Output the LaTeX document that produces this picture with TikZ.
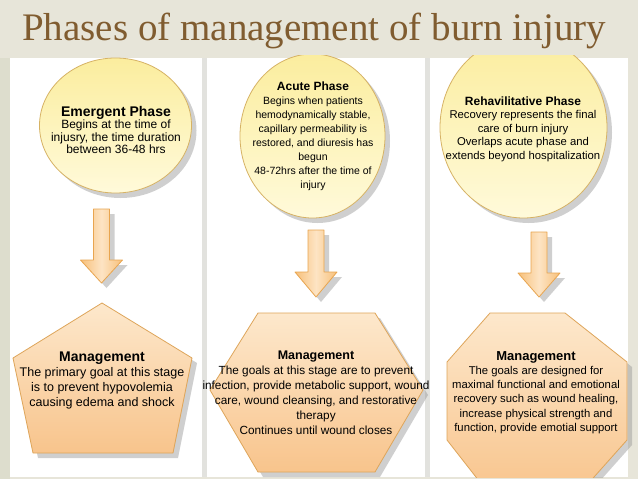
\documentclass[tikz,border=0pt]{standalone}
\usepackage{fontspec}
\setmainfont{Liberation Sans}
\newfontfamily\titlefont{Liberation Serif}
\usetikzlibrary{shapes.geometric}

\begin{document}
\begin{tikzpicture}[x=1pt, y=-1pt, line join=round,
    phasecirc/.style={ellipse, draw=circline, line width=0.8pt,
        top color=circtop, bottom color=circbot, inner sep=0pt},
    mgmtshape/.style={draw=boxline, line width=0.8pt,
        top color=boxtop, bottom color=boxbot},
    downarrow/.style={draw=arrowline, line width=0.8pt,
        left color=arrowdark, right color=arrowdark, middle color=arrowlight},
    softshadow/.style={fill=shadowgray, opacity=0.45},
    bodytext/.style={align=center, inner sep=0pt, text=black},
  ]

    % Define custom colors to match the image
    \definecolor{slidebg}{RGB}{231, 229, 217}
    \definecolor{stripbg}{RGB}{221, 221, 205}
    \definecolor{sepgray}{RGB}{226, 226, 222}
    \definecolor{titlebrown}{RGB}{128, 92, 48}
    \definecolor{circtop}{RGB}{251, 237, 158}
    \definecolor{circbot}{RGB}{255, 250, 218}
    \definecolor{circline}{RGB}{214, 178, 100}
    \definecolor{boxtop}{RGB}{253, 232, 204}
    \definecolor{boxbot}{RGB}{248, 196, 140}
    \definecolor{boxline}{RGB}{222, 165, 90}
    \definecolor{arrowdark}{RGB}{247, 192, 122}
    \definecolor{arrowlight}{RGB}{253, 228, 196}
    \definecolor{arrowline}{RGB}{232, 165, 80}
    \definecolor{shadowgray}{RGB}{150, 150, 150}

    \useasboundingbox (0,0) rectangle (638,479);

    % =======================================================
    % SLIDE BACKGROUND AND TITLE
    % =======================================================
    \fill[slidebg] (0,0) rectangle (638,479);
    \fill[stripbg] (0,58) rectangle (10,479);

    \node[anchor=base west, inner sep=0pt, text=titlebrown,
          font=\titlefont\fontsize{39}{39}\selectfont] (title) at (22,41)
        {Phases of management of burn injury};

    % 1. Three white panels on a light gray sheet
    \fill[sepgray] (10,58) rectangle (628,477);
    \fill[white] (10,58) rectangle (202,477);
    \fill[white] (207,58) rectangle (425,477);
    \fill[white] (430,58) rectangle (628,477);

    \begin{scope}
        \clip (0,55) rectangle (638,477);

        % 2. Soft gray shadows (shifted copies)
        \begin{scope}[xshift=5pt, yshift=-5pt]
            \fill[softshadow] (115.5,125.5) ellipse [x radius=76, y radius=67.5];
            \fill[softshadow] (312.5,136) ellipse [x radius=72.5, y radius=82];
            \fill[softshadow] (523.5,127.5) ellipse [x radius=83.5, y radius=90.5];
            \foreach \cx/\ytop/\yhead/\ytip in {101.5/209/260/283, 316/230/272/297, 539/232/273/297} {
                \fill[softshadow] (\cx-8,\ytop) -- (\cx+8,\ytop) -- (\cx+8,\yhead) -- (\cx+21,\yhead)
                    -- (\cx,\ytip) -- (\cx-21,\yhead) -- (\cx-8,\yhead) -- cycle;
            }
            \fill[softshadow] (102,303) -- (192,358) -- (173,453) -- (33,453) -- (13,358) -- cycle;
            \fill[softshadow] (258,313) -- (375,313) -- (423,390) -- (375,472) -- (258,472) -- (210,390) -- cycle;
            \fill[softshadow] (490,313) -- (565,313) -- (627,362) -- (627,440) -- (578,495)
                -- (490,495) -- (447,440) -- (447,362) -- cycle;
        \end{scope}

        % 3. Phase circles
        \node[phasecirc, minimum width=152pt, minimum height=135pt] (emergent) at (115.5,125.5) {};
        \node[phasecirc, minimum width=145pt, minimum height=164pt] (acute) at (312.5,136) {};
        \node[phasecirc, minimum width=167pt, minimum height=181pt] (rehab) at (523.5,127.5) {};

        % 4. Block arrows down to the management shapes
        \foreach \cx/\ytop/\yhead/\ytip in {101.5/209/260/283, 316/230/272/297, 539/232/273/297} {
            \draw[downarrow] (\cx-8,\ytop) -- (\cx+8,\ytop) -- (\cx+8,\yhead) -- (\cx+21,\yhead)
                -- (\cx,\ytip) -- (\cx-21,\yhead) -- (\cx-8,\yhead) -- cycle;
        }

        % 5. Management shapes (pentagon, hexagon, octagon)
        \draw[mgmtshape] (102,303) -- (192,358) -- (173,453) -- (33,453) -- (13,358) -- cycle;
        \draw[mgmtshape] (258,313) -- (375,313) -- (423,390) -- (375,472) -- (258,472) -- (210,390) -- cycle;
        \draw[mgmtshape] (490,313) -- (565,313) -- (627,362) -- (627,440) -- (578,495)
            -- (490,495) -- (447,440) -- (447,362) -- cycle;
    \end{scope}

    % =======================================================
    % TEXTS
    % =======================================================
    \node[bodytext, font=\fontsize{12}{12.5}\selectfont] (emergentTxt) at (116,130)
        {{\bfseries\fontsize{14}{14}\selectfont Emergent Phase}\\
         Begins at the time of\\
         injusry, the time duration\\
         between 36-48 hrs};

    \node[bodytext, font=\fontsize{10.5}{14}\selectfont] (acuteTxt) at (313,136.5)
        {{\bfseries\fontsize{12}{13}\selectfont Acute Phase}\\
         Begins when patients\\
         hemodynamically stable,\\
         capillary permeability is\\
         restored, and diuresis has\\
         begun\\
         48-72hrs after the time of\\
         injury};

    \node[bodytext, font=\fontsize{11.3}{13.5}\selectfont] (rehabTxt) at (523,129)
        {{\bfseries\fontsize{12}{13}\selectfont Rehavilitative Phase}\\
         Recovery represents the final\\
         care of burn injury\\
         Overlaps acute phase and\\
         extends beyond hospitalization};

    \node[bodytext, font=\fontsize{12.5}{15}\selectfont] (emergentMgmt) at (102,380)
        {{\bfseries\fontsize{14}{14}\selectfont Management}\\
         The primary goal at this stage\\
         is to prevent hypovolemia\\
         causing edema and shock};

    \node[bodytext, font=\fontsize{11.8}{15}\selectfont] (acuteMgmt) at (316,392.5)
        {{\bfseries\fontsize{12.5}{14}\selectfont Management}\\
         The goals at this stage are to prevent\\
         infection, provide metabolic support, wound\\
         care, wound cleansing, and restorative\\
         therapy\\
         Continues until wound closes};

    \node[bodytext, font=\fontsize{11.3}{14.3}\selectfont] (rehabMgmt) at (536,392.5)
        {{\bfseries\fontsize{13}{14}\selectfont Management}\\
         The goals are designed for\\
         maximal functional and emotional\\
         recovery such as wound healing,\\
         increase physical strength and\\
         function, provide emotial support};

\end{tikzpicture}
\end{document}
